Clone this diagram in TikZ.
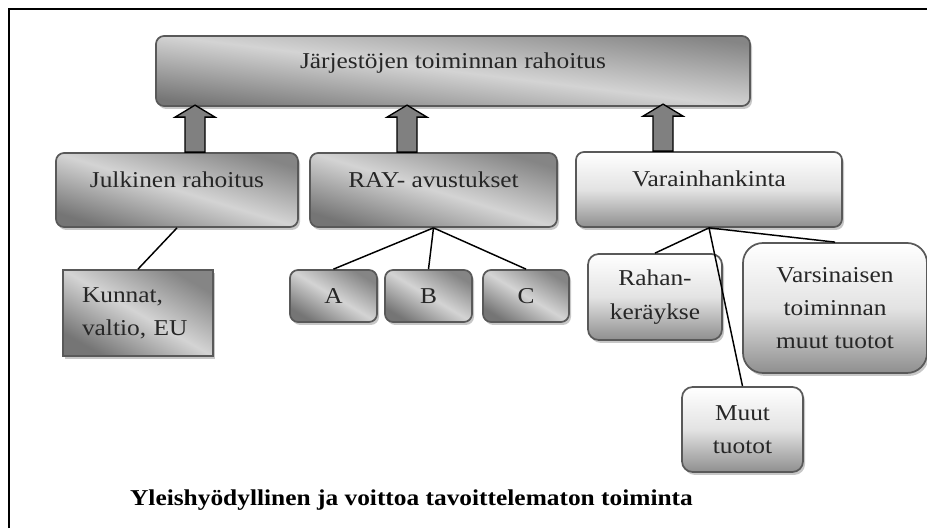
\documentclass[tikz,border=0pt]{standalone}
\usepackage{fontspec}
\setmainfont{Liberation Serif}[FakeStretch=1.12]
\usetikzlibrary{shadows}

\tikzset{
  box/.style={draw=black!65, line width=1.3pt, rounded corners=6pt, text=black!85,
    align=center, inner sep=0pt,
    drop shadow={shadow xshift=1.5pt, shadow yshift=-2.2pt, fill=black!22, opacity=1},
    top color=black!48, bottom color=black!54, middle color=black!17, shading angle=-20},
  lightbox/.style={box, top color=white, bottom color=black!44, middle color=black!11},
  raised/.style={text height=12.5pt, text depth=16.25pt},
  blockarrow/.style={draw=black, line width=1pt, fill=black!50},
  link/.style={draw=black, line width=1.1pt}
}

\begin{document}
\begin{tikzpicture}[x=0.75pt, y=0.75pt, font=\fontsize{17}{25}\selectfont]
\useasboundingbox (0,0) rectangle (927,528);
\draw[line width=1.2pt] (9,0) -- (9,519) -- (927,519);

% top level
\node (top) [box, raised, shading angle=-7, minimum width=445.5pt, minimum height=52.5pt] at (453,457) {Järjestöjen toiminnan rahoitus};

% sources
\node (jul) [box, raised, shading angle=-17, minimum width=181.5pt, minimum height=55.5pt] at (177,338) {Julkinen rahoitus};
\node (ray) [box, raised, shading angle=-17, minimum width=185.25pt, minimum height=55.5pt] at (433.5,338) {RAY- avustukset};
\node (var) [lightbox, raised, minimum width=199.5pt, minimum height=56.25pt] at (709,338.5) {Varainhankinta};

\foreach \src/\xx in {jul/195, ray/407, var/663}
  \draw[blockarrow] (\xx,0 |- \src.north) ++(-10,0) -- ++(0,35) -- ++(-10,0) -- ++(20,12)
    -- ++(20,-12) -- ++(-10,0) -- ++(0,-35) -- cycle;

% details
\node (kun) [box, shading angle=-30, rounded corners=0pt, align=left, text width=84pt, inner xsep=14pt,
  minimum height=64.5pt] at (138,215) {Kunnat,\\valtio, EU};
\node (a) [box, shading angle=-31, minimum width=65.25pt, minimum height=39pt] at (333.5,232) {A};
\node (b) [box, shading angle=-31, minimum width=65.25pt, minimum height=39pt] at (428.5,232) {B};
\node (c) [box, shading angle=-31, minimum width=64.5pt, minimum height=39pt] at (526,232) {C};
\node (rah) [lightbox, rounded corners=8pt, minimum width=100.5pt, minimum height=64.5pt] at (655,231) {Rahan-\\keräykse};
\node (vars) [lightbox, rounded corners=15pt, minimum width=138pt, minimum height=97.5pt] at (835,220) {Varsinaisen\\toiminnan\\muut tuotot};
\node (muut) [lightbox, rounded corners=8pt, minimum width=90.75pt, minimum height=63.75pt] at (742.5,98.5) {Muut\\tuotot};

\draw[link] (jul.south) -- (kun.north);
\draw[link] (ray.south) -- (a.north);
\draw[link] (ray.south) -- (b.north);
\draw[link] (ray.south) -- (c.north);
\draw[link] (var.south) -- (rah.north);
\draw[link] (var.south) -- (vars.north);
\draw[link] (var.south) -- (muut.north);

\node (note) [anchor=base, font=\fontsize{17}{25}\selectfont\bfseries] at (411.5,23) {Yleishyödyllinen ja voittoa tavoittelematon toiminta};
\end{tikzpicture}
\end{document}
